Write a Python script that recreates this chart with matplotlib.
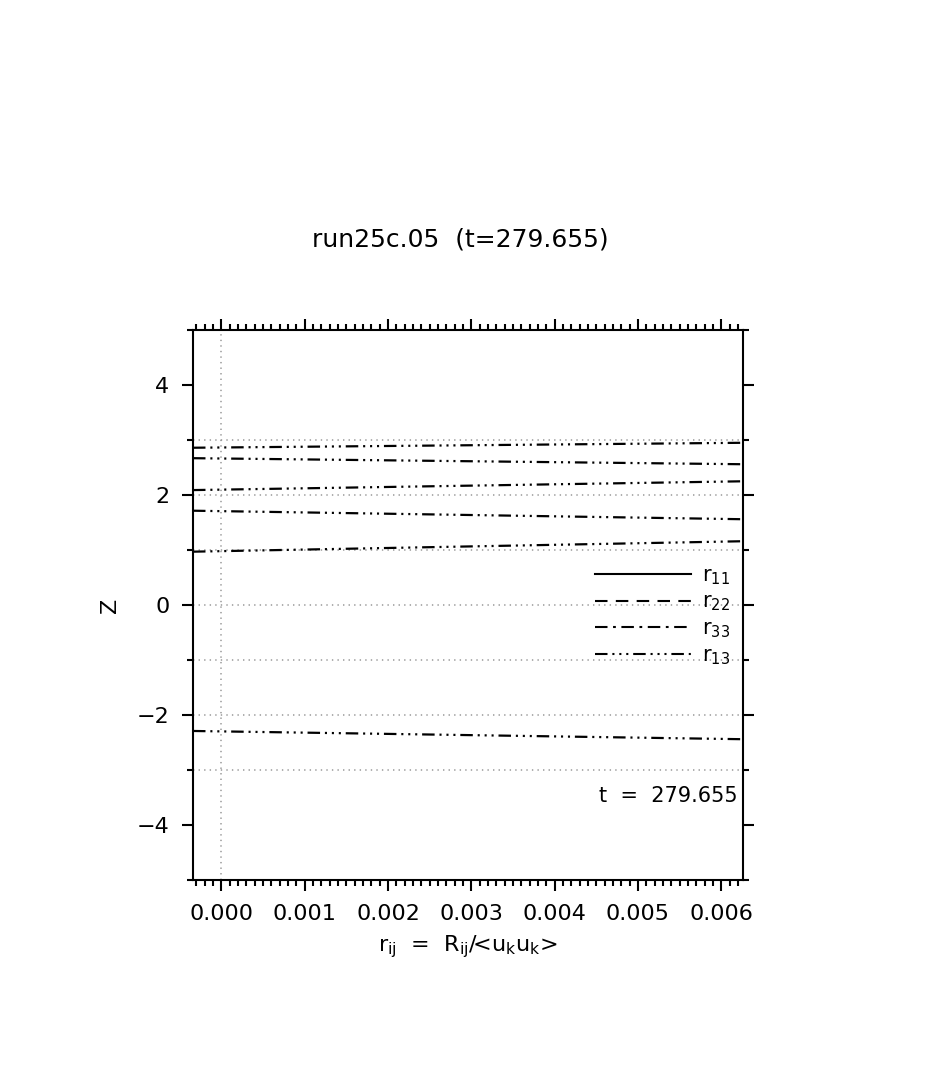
import numpy as np
import matplotlib
matplotlib.use("Agg")
import matplotlib.pyplot as plt
from matplotlib.lines import Line2D

plt.rcParams['font.family'] = ['DejaVu Sans']
plt.rcParams['mathtext.default'] = 'regular'
plt.rcParams['lines.scale_dashes'] = False

# r13 profiles, sampled at the plot edges (x in units of r_ij)
x_ends = [-0.00034, 0.00626]
r13_z = [
    [2.86, 2.95],
    [2.67, 2.56],
    [2.09, 2.25],
    [1.715, 1.56],
    [0.97, 1.16],
    [-2.29, -2.44],
]
grid_z = [3, 2, 1, 0, -1, -2, -3]
legend_labels = ['r$_{11}$', 'r$_{22}$', 'r$_{33}$', 'r$_{13}$']
title = 'run25c.05  (t=279.655)'
t_label = 't  =  279.655'

styles = ['-', (0, (9, 6)), (0, (9, 4, 2, 4)), (0, (9, 3.5, 1.5, 3.5, 1.5, 3.5, 1.5, 3.5))]

fig = plt.figure(figsize=(9.35, 10.65), dpi=100)
ax = fig.add_axes([0.2064, 0.1737, 0.5882, 0.5164])

for z in grid_z:
    ax.axhline(z, color='#999999', lw=1.1, ls=(0, (1, 3)))
ax.axvline(0.0, color='#999999', lw=1.1, ls=(0, (1, 3)))

for zz in r13_z:
    ax.plot(x_ends, zz, color='black', lw=1.6, ls=styles[3])

ax.set_xlim(x_ends[0], x_ends[1])
ax.set_ylim(-5, 5)
ax.set_xticks(np.arange(0, 0.0061, 0.001))
ax.set_xticks(np.arange(-0.0003, 0.00627, 0.0001), minor=True)
ax.set_xticklabels(['%.3f' % v for v in np.arange(0, 0.0061, 0.001)])
ax.set_yticks([-4, -2, 0, 2, 4])
ax.set_yticks([-5, -3, -1, 1, 3, 5], minor=True)
ax.set_yticklabels(['\u22124', '\u22122', '0', '2', '4'])

ax.tick_params(which='both', direction='out', top=True, right=True,
               labeltop=False, labelright=False, width=1.5, labelsize=16, pad=9)
ax.tick_params(which='major', length=8)
ax.tick_params(which='minor', length=4.5)
for s in ax.spines.values():
    s.set_linewidth(1.5)

ax.set_xlabel('r$_{ij}$  =  R$_{ij}$/<u$_k$u$_k$>', fontsize=16, labelpad=7)
ax.set_ylabel('Z', fontsize=16, labelpad=12)
fig.text(0.492, 0.775, title, ha='center', va='center', fontsize=18)

ax.text(0.99, 0.152, t_label, transform=ax.transAxes, ha='right', va='center', fontsize=15)

handles = [Line2D([], [], color='black', lw=1.5, ls=s) for s in styles]
leg = ax.legend(handles, legend_labels, loc='center right', bbox_to_anchor=(1.01, 0.48),
                frameon=False, handlelength=4.6, handletextpad=0.5, labelspacing=0.25,
                fontsize=15)

fig.savefig('out.png', dpi=100)
